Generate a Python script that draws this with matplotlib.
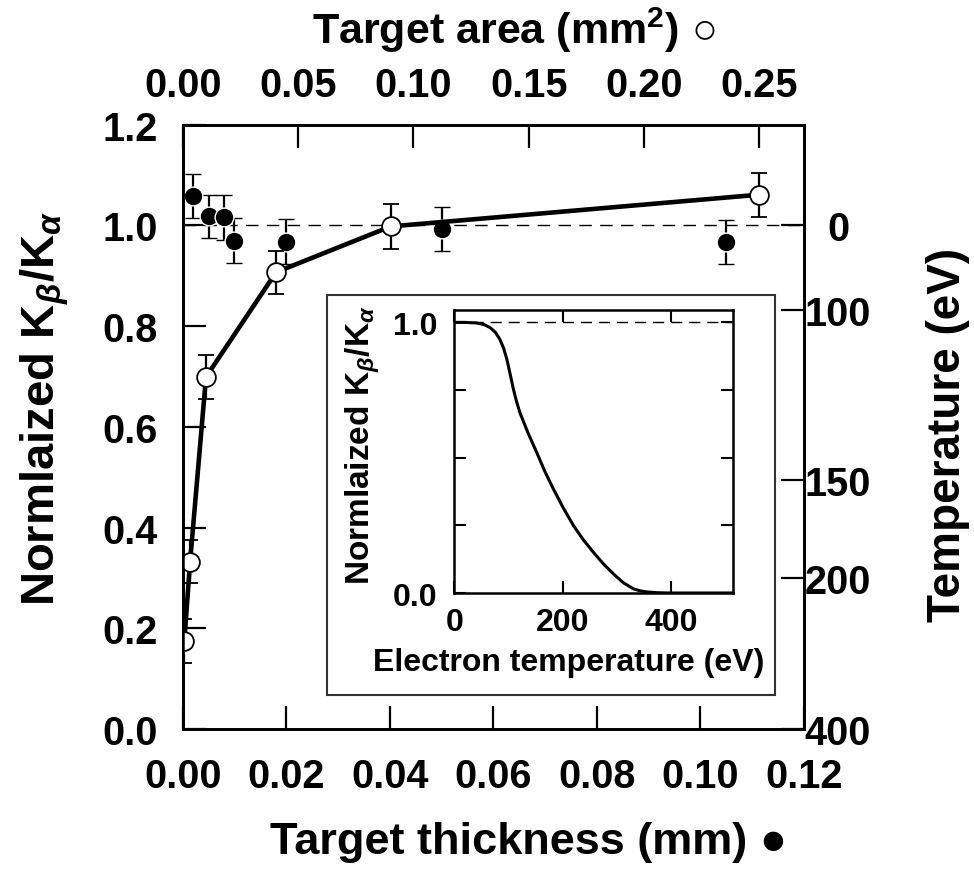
import matplotlib
matplotlib.use('Agg')
import matplotlib.pyplot as plt
from matplotlib.patches import Rectangle

plt.rcParams['font.family'] = ['Liberation Sans', 'DejaVu Sans']
plt.rcParams['font.weight'] = 'bold'
plt.rcParams['mathtext.fontset'] = 'custom'
plt.rcParams['mathtext.rm'] = 'Liberation Sans:bold'
plt.rcParams['mathtext.bf'] = 'Liberation Sans:bold'
plt.rcParams['mathtext.it'] = 'Liberation Sans:italic'

# ---------------- data ----------------
# filled circles: target thickness (mm)
thick_mm = [0.002, 0.005, 0.008, 0.010, 0.020, 0.050, 0.105]
thick_ratio = [1.058, 1.018, 1.016, 0.970, 0.968, 0.993, 0.967]
thick_err = [0.044, 0.042, 0.044, 0.044, 0.044, 0.043, 0.044]

# open circles: target area (mm^2)
area_mm2 = [0.0007, 0.0032, 0.0101, 0.0405, 0.0902, 0.2499]
area_ratio = [0.175, 0.332, 0.699, 0.907, 0.998, 1.061]
area_err = [0.044, 0.043, 0.044, 0.043, 0.044, 0.044]

# right axis: temperature tick labels and the ratio where they sit
temp_labels = ['0', '100', '150', '200', '400']
temp_ratio_pos = [1.0, 0.833, 0.495, 0.300, 0.0]

# inset curve: normalized ratio vs electron temperature
curve_T = [0, 20, 41, 55, 66, 76, 84, 91, 97, 103, 109, 115, 121, 136, 152,
           167, 183, 201, 220, 238, 257, 275, 294, 312, 331, 343, 355, 375, 398, 450, 515]
curve_ratio = [1.0, 1.0, 0.998, 0.992, 0.981, 0.963, 0.938, 0.905, 0.864, 0.81, 0.754, 0.707,
               0.667, 0.592, 0.52, 0.45, 0.384, 0.315, 0.249, 0.197, 0.150, 0.108, 0.070,
               0.038, 0.015, 0.008, 0.004, 0.001, 0.0, 0.0, 0.0]

main_yticks = [0.0, 0.2, 0.4, 0.6, 0.8, 1.0, 1.2]
thick_ticks = [0.00, 0.02, 0.04, 0.06, 0.08, 0.10, 0.12]
area_ticks = [0.00, 0.05, 0.10, 0.15, 0.20, 0.25]
inset_xticks = [0, 200, 400]
inset_yticks = [0.0, 0.25, 0.5, 0.75, 1.0]

# ---------------- figure ----------------
W, H = 974, 870
fig = plt.figure(figsize=(W / 100, H / 100), dpi=100)

def fx(px):
    return px / W

def fy(py):
    return 1 - py / H

L, R, T, B = 182.7, 804.0, 125.7, 730.0
ax = fig.add_axes([fx(L), fy(B), fx(R) - fx(L), fy(T) - fy(B)])
ax.set_xlim(0, 0.12)
ax.set_ylim(0, 1.2)

tick_fs = 28.5
tk = dict(direction='in', length=16.5, width=1.6, labelsize=tick_fs)

for s in ax.spines.values():
    s.set_linewidth(1.8)

ax.axhline(1.0, color='k', lw=1.0, ls=(0, (9, 6)), zorder=1)

ax.errorbar(thick_mm, thick_ratio, yerr=thick_err, fmt='o', ms=13.5,
            mfc='k', mec='white', mew=1.0, ecolor='k', elinewidth=1.6,
            capsize=5.5, capthick=1.6, zorder=3)

ax.set_xticks(thick_ticks)
ax.set_xticklabels(['%.2f' % v for v in thick_ticks])
ax.set_yticks(main_yticks)
ax.set_yticklabels(['%.1f' % v for v in main_yticks])
ax.tick_params(axis='x', pad=20, **tk)
ax.tick_params(axis='y', pad=18, **tk)

# top axis: area
ax3 = ax.twiny()
ax3.set_xlim(0, 0.2694)
ax3.errorbar(area_mm2, area_ratio, yerr=area_err, fmt='-o', ms=13.5,
             color='k', lw=3.3, mfc='white', mec='k', mew=1.3, ecolor='k',
             elinewidth=1.6, capsize=5.5, capthick=1.6, zorder=4)
ax3.set_xticks(area_ticks)
ax3.set_xticklabels(['%.2f' % v for v in area_ticks])
ax3.tick_params(axis='x', pad=15, **tk)
for s in ax3.spines.values():
    s.set_linewidth(1.8)

# right axis: temperature
ax2 = ax.twinx()
ax2.set_ylim(0, 1.2)
ax2.set_yticks(temp_ratio_pos)
ax2.set_yticklabels(temp_labels)
ax2.tick_params(axis='y', pad=24.5, **tk)
for lab in ax2.get_yticklabels():
    lab.set_horizontalalignment('center')
for s in ax2.spines.values():
    s.set_linewidth(1.8)

fig.text(fx(529), fy(843), 'Target thickness (mm) \u25cf', ha='center', va='center',
         fontsize=32.5, fontweight='bold')
fig.text(fx(514), fy(30), 'Target area (mm$^{2}$) \u25cb', ha='center', va='center',
         fontsize=31, fontweight='bold')
fig.text(fx(45), fy(408), r'Normlaized K$_{\beta}$/K$_{\alpha}$', ha='center', va='center',
         rotation=90, fontsize=34, fontweight='bold')
fig.text(fx(948), fy(435), 'Temperature (eV)', ha='center', va='center',
         rotation=90, fontsize=33, fontweight='bold')

# inset frame
fig.add_artist(Rectangle((fx(327.3), fy(696)), fx(775) - fx(327.3), fy(296) - fy(696),
                         transform=fig.transFigure, facecolor='white',
                         edgecolor='#333333', lw=1.5, zorder=2))

iL, iR, iT, iB = 454.3, 733.3, 310.7, 594.0
axi = fig.add_axes([fx(iL), fy(iB), fx(iR) - fx(iL), fy(iT) - fy(iB)])
axi.set_zorder(5)
axi.set_xlim(0, 515)
axi.set_ylim(0, 1.047)
axi.plot(curve_T, curve_ratio, color='k', lw=2.2)
axi.axhline(1.0, color='k', lw=1.0, ls=(0, (8, 5)))
for s in axi.spines.values():
    s.set_linewidth(1.8)
axi.set_xticks(inset_xticks)
axi.set_xticklabels([str(v) for v in inset_xticks])
axi.set_yticks(inset_yticks)
axi.set_yticklabels(['0.0', '', '', '', '1.0'])
itk = dict(direction='in', length=8.6, width=1.5, labelsize=23,
           top=True, right=True)
axi.tick_params(axis='x', pad=10, **itk)
axi.tick_params(axis='y', pad=12, **itk)
fig.text(fx(569), fy(663), 'Electron temperature (eV)', ha='center', va='center',
         fontsize=23, fontweight='bold', zorder=6)
fig.text(fx(363), fy(445), r'Normlaized K$_{\beta}$/K$_{\alpha}$', ha='center', va='center',
         rotation=90, fontsize=24, fontweight='bold', zorder=6)

fig.savefig('out.png', dpi=100)
